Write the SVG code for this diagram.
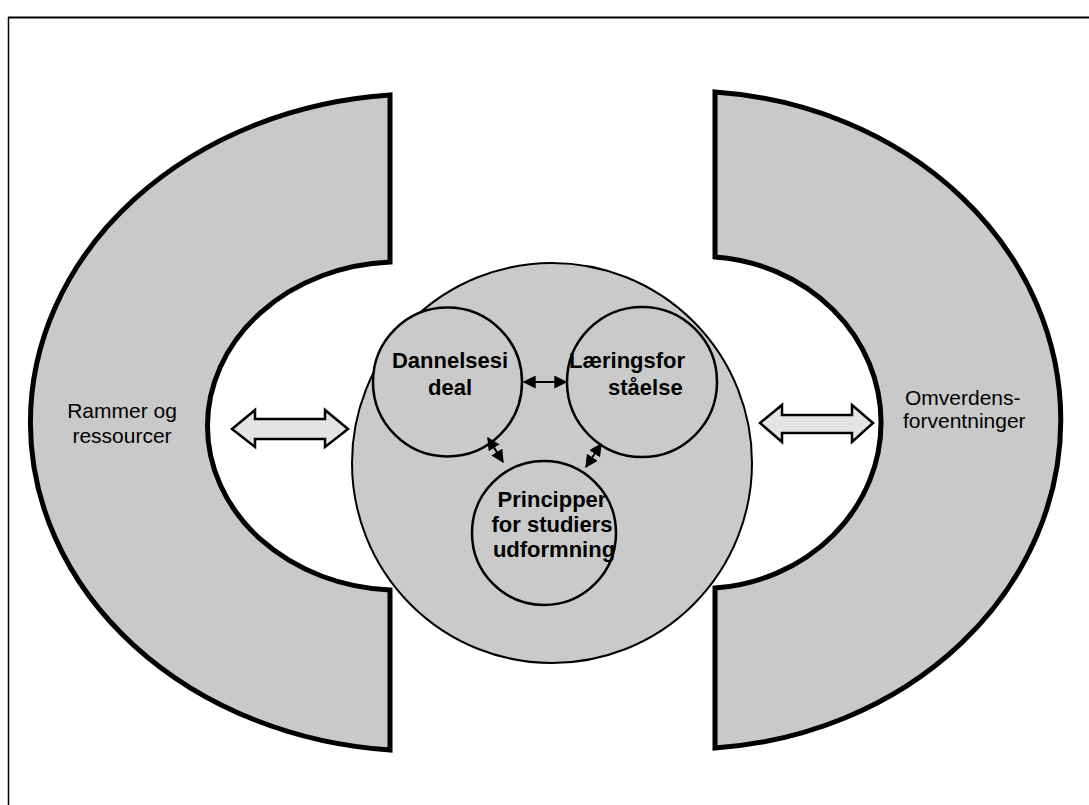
<svg xmlns="http://www.w3.org/2000/svg" width="1089" height="805" viewBox="0 0 1089 805">
<style>
  .shape { fill:#c9c9c9; stroke:#000; stroke-width:5; stroke-linejoin:miter; }
  .big { fill:#cacaca; stroke:#000; stroke-width:2; }
  .inner { fill:#cacaca; stroke:#000; stroke-width:2.5; }
  .block { fill:#e4e4e4; stroke:#000; stroke-width:2.5; stroke-linejoin:miter; }
  .lbl { font-family:"Liberation Sans", Arial, sans-serif; font-size:21px; fill:#000; }
  .blbl { font-family:"Liberation Sans", Arial, sans-serif; font-size:22px; font-weight:bold; fill:#000; }
  .conn { stroke:#000; stroke-width:2; fill:none; marker-start:url(#ah); marker-end:url(#ah); }
</style>
<defs>
  <marker id="ah" viewBox="0 0 10 10" refX="9" refY="5" markerWidth="6.5" markerHeight="6.5" orient="auto-start-reverse" markerUnits="strokeWidth">
    <path d="M0,0 L10,5 L0,10 Z" fill="#000"/>
  </marker>
</defs>
<rect x="0" y="0" width="1089" height="805" fill="#fff"/>
<g id="frame" stroke="#000" fill="none">
  <line x1="8" y1="17.5" x2="1089" y2="17.5" stroke-width="2"/>
  <line x1="8.5" y1="17" x2="8.5" y2="805" stroke-width="1.5"/>
</g>
<g id="rammer">
  <path class="shape" d="M 390 95 A 390 328.5 0 0 0 390 750 L 390 590 A 192 164.2 0 0 1 390 262 Z"/>
  <text class="lbl" text-anchor="middle"><tspan x="122" y="418">Rammer og</tspan><tspan x="122" y="443">ressourcer</tspan></text>
</g>
<g id="omverden">
  <path class="shape" d="M 715 92 A 375 329 0 0 1 715 748 L 715 588 A 180 166 0 0 0 715 257 Z"/>
  <text class="lbl"><tspan x="905" y="405">Omverdens-</tspan><tspan x="903" y="428">forventninger</tspan></text>
</g>
<g id="center">
  <circle class="big" cx="552" cy="463" r="200"/>
</g>
<g id="dannelse">
  <circle class="inner" cx="447.5" cy="382" r="74.5"/>
  <text class="blbl" text-anchor="middle"><tspan x="450" y="368">Dannelsesi</tspan><tspan x="450" y="395">deal</tspan></text>
</g>
<g id="laering">
  <circle class="inner" cx="642" cy="382" r="75"/>
  <text class="blbl"><tspan x="569" y="368">Læringsfor</tspan><tspan x="608" y="395">ståelse</tspan></text>
</g>
<g id="principper">
  <circle class="inner" cx="544" cy="533" r="72"/>
  <text class="blbl" text-anchor="middle"><tspan x="552" y="507">Principper</tspan><tspan x="552" y="532">for studiers</tspan><tspan x="554" y="557">udformning</tspan></text>
</g>
<g id="connectors">
  <path class="block" d="M 232 429 L 255 410 L 255 419 L 325 419 L 325 410 L 348 429 L 325 447 L 325 439 L 255 439 L 255 447 Z"/>
  <path class="block" d="M 760 423 L 782 405 L 782 415 L 852 415 L 852 405 L 873 423 L 852 442 L 852 433 L 782 433 L 782 442 Z"/>
  <line class="conn" x1="524" y1="382" x2="566" y2="382"/>
  <line class="conn" x1="488" y1="438" x2="503" y2="462"/>
  <line class="conn" x1="601" y1="444" x2="586" y2="467"/>
</g>
</svg>
